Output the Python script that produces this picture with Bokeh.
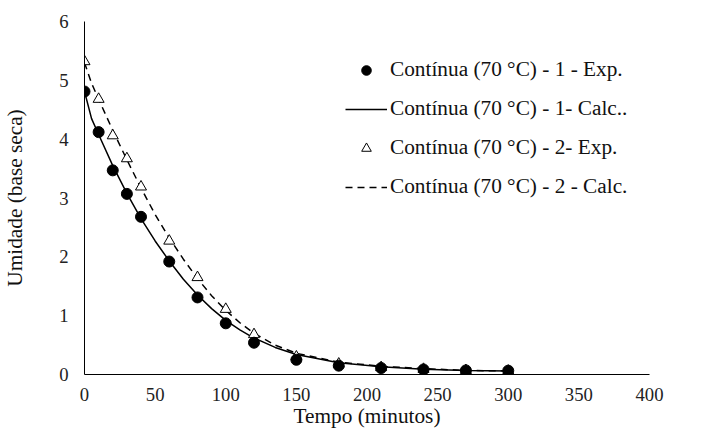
from bokeh.plotting import figure
from bokeh.models import Range1d, FixedTicker, Legend, LegendItem
from bokeh.embed import file_html
from bokeh.resources import INLINE

# Experimental data
t_exp = [0, 10, 20, 30, 40, 60, 80, 100, 120, 150, 180, 210, 240, 270, 300]
u_exp1 = [4.81, 4.12, 3.47, 3.07, 2.68, 1.92, 1.31, 0.87, 0.54, 0.25, 0.15, 0.11, 0.085, 0.07, 0.065]
u_exp2 = [5.32, 4.68, 4.06, 3.67, 3.19, 2.27, 1.65, 1.11, 0.68, 0.30, 0.18, 0.12, 0.09, 0.07, 0.06]

# Calculated curves
t_calc = [0, 5, 10, 20, 30, 40, 50, 60, 70, 80, 90, 100, 110, 120, 135, 150, 180, 210, 240, 270, 300]
u_calc1 = [4.81, 4.35, 4.08, 3.55, 3.08, 2.65, 2.27, 1.93, 1.62, 1.35, 1.12, 0.92, 0.76, 0.62, 0.46, 0.34, 0.20, 0.13, 0.09, 0.07, 0.06]
u_calc2 = [5.30, 4.95, 4.68, 4.15, 3.65, 3.17, 2.72, 2.32, 1.96, 1.63, 1.34, 1.09, 0.88, 0.70, 0.50, 0.36, 0.21, 0.14, 0.10, 0.07, 0.06]

labels = ["Contínua (70 °C) - 1 - Exp.", "Contínua (70 °C) - 1- Calc..",
          "Contínua (70 °C) - 2- Exp.", "Contínua (70 °C) - 2 - Calc."]

x_ticks = [0, 50, 100, 150, 200, 250, 300, 350, 400]
y_ticks = [0, 1, 2, 3, 4, 5, 6]

FONT = "Liberation Serif"

p = figure(width=686, height=423, output_backend="svg", toolbar_location=None,
           x_range=Range1d(0, 400), y_range=Range1d(0, 6),
           frame_width=565, frame_height=353,
           min_border_left=84, min_border_top=21, min_border_right=37, min_border_bottom=49)

p.outline_line_color = None
p.border_fill_color = "white"
p.background_fill_color = "white"
p.xgrid.visible = False
p.ygrid.visible = False

for ax in (p.xaxis, p.yaxis):
    ax.axis_line_color = "black"
    ax.axis_line_width = 1
    ax.major_tick_line_color = None
    ax.minor_tick_line_color = None
    ax.major_label_text_font = FONT
    ax.major_label_text_font_size = "18.7px"
    ax.major_label_text_color = "#222222"
    ax.axis_label_text_font = FONT
    ax.axis_label_text_font_size = "21.3px"
    ax.axis_label_text_font_style = "normal"
    ax.axis_label_text_color = "#111111"

p.xaxis.ticker = FixedTicker(ticks=x_ticks)
p.yaxis.ticker = FixedTicker(ticks=y_ticks)
p.xaxis.axis_label = "Tempo (minutos)"
p.yaxis.axis_label = "Umidade (base seca)"
p.xaxis.major_label_standoff = 7
p.yaxis.major_label_standoff = 10
p.xaxis.axis_label_standoff = 0
p.yaxis.axis_label_standoff = 29

r_c1 = p.line(t_calc, u_calc1, line_color="black", line_width=1.5)
r_c2 = p.line(t_calc, u_calc2, line_color="black", line_width=1.5, line_dash="7 5")
r_e2 = p.scatter(t_exp, u_exp2, marker="triangle", size=11, fill_color="white",
                 line_color="black", line_width=1)
r_e1 = p.scatter(t_exp, u_exp1, marker="circle", size=11, fill_color="black",
                 line_color="black")

# hidden renderers used only for the (smaller) legend markers
leg_e1 = p.scatter(t_exp, u_exp1, marker="circle", size=8, fill_color="black",
                   line_color="black", visible=False)
leg_e2 = p.scatter(t_exp, u_exp2, marker="triangle", size=8, fill_color="white",
                   line_color="black", visible=False)

legend = Legend(items=[
    LegendItem(label=labels[0], renderers=[leg_e1]),
    LegendItem(label=labels[1], renderers=[r_c1]),
    LegendItem(label=labels[2], renderers=[leg_e2]),
    LegendItem(label=labels[3], renderers=[r_c2]),
], location=(261, 175))
legend.border_line_color = None
legend.background_fill_alpha = 0
legend.inactive_fill_alpha = 0
legend.padding = 0
legend.margin = 0
legend.spacing = 14
legend.glyph_width = 42
legend.glyph_height = 24
legend.label_height = 24
legend.label_standoff = 3
legend.label_text_font = FONT
legend.label_text_font_size = "21.3px"
legend.label_text_color = "#111111"
p.add_layout(legend, "center")

open("out.html", "w").write(file_html(p, INLINE))
